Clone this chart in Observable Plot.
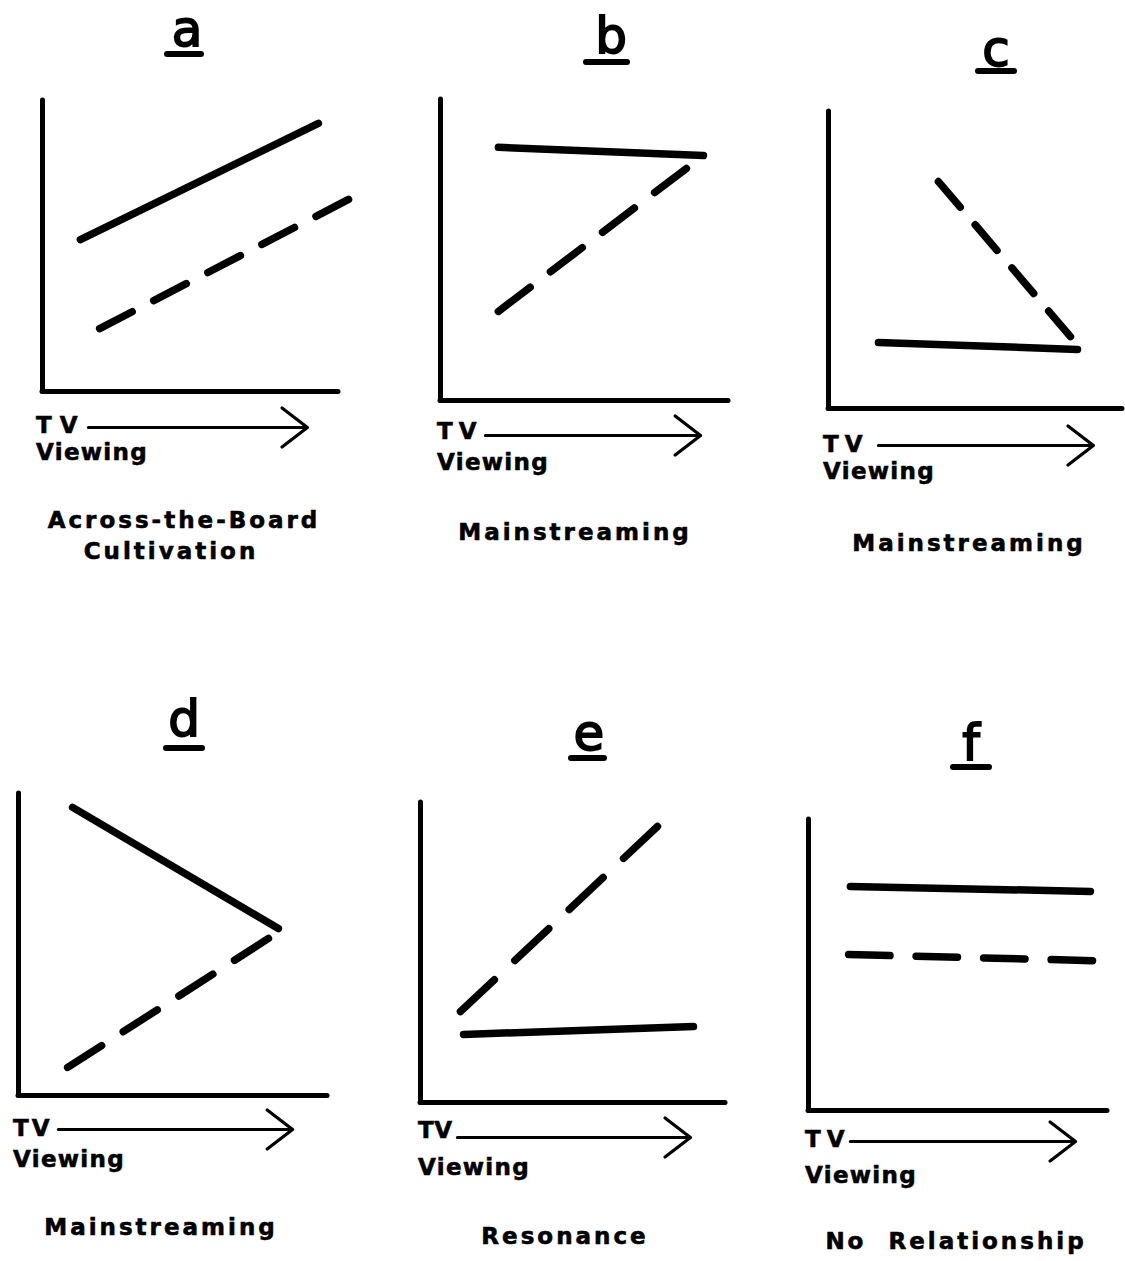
<!DOCTYPE html>
<html><head><meta charset="utf-8">
<script src="https://cdn.jsdelivr.net/npm/d3@7"></script>
<script src="https://cdn.jsdelivr.net/npm/@observablehq/plot@0.6"></script>
<style>
html,body{margin:0;padding:0;background:#fff;}
#fig{position:relative;width:1125px;height:1261px;overflow:hidden;background:#fff;font-family:"DejaVu Sans",sans-serif;color:#000;}
#fig svg{position:absolute;background:transparent;}
.t{position:absolute;white-space:pre;line-height:1;margin:0;}
.title{font-size:50px;-webkit-text-stroke:1.8px #000;transform:translateX(-50%);}
.ul{position:absolute;height:6px;border-radius:3px;background:#000;}
.cap{font-size:23px;font-weight:bold;letter-spacing:3px;-webkit-text-stroke:0.6px #000;transform:translateX(-50%);}
.tv{font-size:23px;font-weight:bold;-webkit-text-stroke:0.6px #000;}
.vw{font-size:23px;font-weight:bold;letter-spacing:1.3px;-webkit-text-stroke:0.6px #000;}
</style></head><body><div id="fig"></div><script>
// ---- data (values in each panel's 0–100 units: x = TV viewing, y = outcome) ----
const panels = ["a", "b", "c", "d", "e", "f"];
const captions = [
  ["Across-the-Board", "Cultivation"],
  ["Mainstreaming"],
  ["Mainstreaming"],
  ["Mainstreaming"],
  ["Resonance"],
  ["No  Relationship"]
];
const xLabelTop = "TV";
const xLabelBottom = "Viewing";
// solid-line group (start, end)
const solidX  = [[12.8, 93.2], [20.1, 91.3], [17.0, 84.7], [17.5, 84.1], [14.1, 89.5], [14.0, 94.3]];
const solidY  = [[52.2, 92.1], [84.1, 81.4], [22.2, 19.9], [95.4, 55.3], [22.7, 25.3], [77.0, 75.3]];
// dashed-line group (start, end)
const dashedX = [[19.3, 103.4], [20.1, 85.4], [37.4, 82.3], [15.9, 80.9], [13.1, 77.7], [13.4, 95.0]];
const dashedY = [[21.6, 66.0], [29.6, 77.1], [76.4, 24.2], [9.3, 52.0], [30.3, 92.0], [53.6, 51.5]];
// TV-viewing arrow span (in x units)
const arrowSpan = [[15.5, 89.5], [15.6, 90.3], [17.0, 90.1], [12.9, 88.7], [12.1, 88.5], [14.0, 89.3]];

// ---- layout (page positions / sizes, px) ----
const layout = [
  {x0: 42,  y0: 391,  w: 296, h: 291, title: [187, 46],  ul: [184, 54, 40],  tv: [36, 425],   tvSp: 8, vw: [36, 454],   arrowDy: 36, cap: [[184, 521], [171, 552]], dashes: 5},
  {x0: 440, y0: 400,  w: 288, h: 301, title: [611, 53],  ul: [606, 62, 47],  tv: [437, 431],  tvSp: 6, vw: [437, 464],  arrowDy: 35, cap: [[575, 533]], dashes: 4},
  {x0: 828, y0: 408,  w: 294, h: 297, title: [996, 66],  ul: [996, 71, 42],  tv: [823, 444],  tvSp: 6, vw: [823, 473],  arrowDy: 37, cap: [[969, 544]], dashes: 4},
  {x0: 18,  y0: 1095, w: 309, h: 302, title: [184, 736], ul: [184, 748, 42], tv: [13, 1128],  tvSp: 3, vw: [13, 1161],  arrowDy: 34, cap: [[161, 1228]], dashes: 4},
  {x0: 420, y0: 1102, w: 305, h: 300, title: [589, 750], ul: [587, 758, 39], tv: [418, 1130], tvSp: 0.5, vw: [418, 1169], arrowDy: 35, cap: [[565, 1237]], dashes: 4},
  {x0: 808, y0: 1110, w: 299, h: 291, title: [971, 760], ul: [971, 767, 42], tv: [805, 1139], tvSp: 6, vw: [805, 1177], arrowDy: 31, cap: [[956, 1242]], dashes: 4}
];

const fig = document.getElementById("fig");
const mL = 20, mR = 40, mT = 12, mB = 60;
const SW = 7.5;

function addText(txt, cls, x, baseline, size, spacing) {
  const d = document.createElement("div");
  d.className = "t " + cls;
  d.textContent = txt;
  d.style.left = x + "px";
  d.style.top = (baseline - 0.846 * size) + "px";
  if (spacing != null) d.style.letterSpacing = spacing + "px";
  fig.appendChild(d);
}

panels.forEach((p, i) => {
  const L = layout[i];
  const solid = [0, 1].map(k => ({x: solidX[i][k], y: solidY[i][k]}));
  const dashed = [0, 1].map(k => ({x: dashedX[i][k], y: dashedY[i][k]}));
  const len = Math.hypot((dashedX[i][1] - dashedX[i][0]) * L.w / 100, (dashedY[i][1] - dashedY[i][0]) * L.h / 100);
  const N = L.dashes, r = 0.38;
  const vd = (len + SW) / (N + r * (N - 1));
  const dash = `${(vd - SW).toFixed(2)},${(r * vd + SW).toFixed(2)}`;

  const svg = Plot.plot({
    width: L.w + mL + mR,
    height: L.h + mT + mB,
    marginLeft: mL, marginRight: mR, marginTop: mT, marginBottom: mB,
    style: {background: "transparent", overflow: "visible"},
    x: {domain: [0, 100], axis: null},
    y: {domain: [0, 100], axis: null},
    marks: [
      Plot.ruleX([0], {y1: 0, y2: 100, stroke: "#000", strokeWidth: 5, strokeLinecap: "round"}),
      Plot.ruleY([0], {x1: 0, x2: 100, stroke: "#000", strokeWidth: 5, strokeLinecap: "round"}),
      Plot.line(solid, {x: "x", y: "y", stroke: "#000", strokeWidth: SW, strokeLinecap: "round"}),
      Plot.line(dashed, {x: "x", y: "y", stroke: "#000", strokeWidth: SW, strokeLinecap: "round", strokeDasharray: dash}),
      Plot.arrow([arrowSpan[i]], {x1: d => d[0], x2: d => d[1], y1: 0, y2: 0, dy: L.arrowDy,
        stroke: "#000", strokeWidth: 3.2, headLength: 15, headAngle: 75, strokeLinecap: "round", strokeLinejoin: "round"})
    ]
  });
  svg.style.left = (L.x0 - mL) + "px";
  svg.style.top = (L.y0 - L.h - mT) + "px";
  fig.appendChild(svg);

  // title letter + underline
  addText(p, "title", L.title[0], L.title[1], 50);
  const u = document.createElement("div");
  u.className = "ul";
  u.style.left = (L.ul[0] - L.ul[2] / 2) + "px";
  u.style.top = (L.ul[1] - 3) + "px";
  u.style.width = L.ul[2] + "px";
  fig.appendChild(u);

  // axis label
  addText(xLabelTop, "tv", L.tv[0], L.tv[1] + 8.5, 23, L.tvSp);
  addText(xLabelBottom, "vw", L.vw[0], L.vw[1] + 6, 23);

  // caption
  captions[i].forEach((line, k) => addText(line, "cap", L.cap[k][0], L.cap[k][1] + 7, 23));
});
</script></body></html>
